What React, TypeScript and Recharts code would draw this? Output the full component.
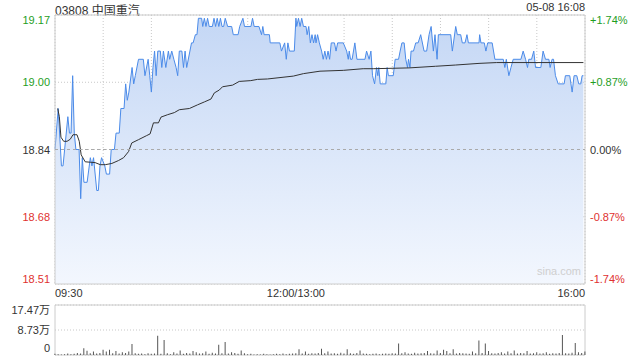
import React from 'react';
import {
  ComposedChart, Area, Line, XAxis, YAxis, CartesianGrid, ReferenceLine, ReferenceArea,
  BarChart, Bar,
} from 'recharts';

const stockTitle = '03808 中国重汽';
const stampText = '05-08 16:08';
const watermark = 'sina.com';

const priceTicks = [18.512, 18.676, 18.84, 19.004, 19.168];
const priceLabels = ['18.51', '18.68', '18.84', '19.00', '19.17'];
const pctLabels = ['-1.74%', '-0.87%', '0.00%', '+0.87%', '+1.74%'];
const tickColors = ['#e0312f', '#e0312f', '#333333', '#1f9e1f', '#1f9e1f'];

const minuteTicks = [0, 30, 60, 90, 120, 150, 180, 210, 240, 270, 300, 330];
const timeLabelAt = [0, 150, 330];
const timeLabels = ['09:30', '12:00/13:00', '16:00'];

const volTicks = [0, 8.73, 17.47];
const volLabels = ['0', '8.73万', '17.47万'];

// [minutes since 09:30 (lunch removed), price]
const price: [number, number][] = [
  [0, 18.84], [2, 18.94], [4, 18.8], [5, 18.8], [6, 18.84], [8, 18.92], [9, 18.88], [10, 18.88],
  [11, 19.02], [12, 18.88], [13, 18.84], [15, 18.84], [16, 18.72], [17, 18.82], [18, 18.76],
  [20, 18.76], [22, 18.82], [23, 18.8], [24, 18.82], [26, 18.74], [27, 18.74], [28, 18.8],
  [29, 18.82], [31, 18.8], [32, 18.78], [34, 18.78], [35, 18.84], [37, 18.84], [38, 18.88],
  [40, 18.88], [41, 18.94], [43, 18.94], [44, 19.0], [45, 18.96], [46, 18.98], [48, 19.04],
  [49, 19.0], [50, 19.02], [52, 19.06], [55, 19.06], [56, 19.02], [58, 19.06], [59, 19.02],
  [60, 18.98], [61, 19.04], [62, 19.08], [63, 19.02], [64, 19.08], [65.6, 19.08], [66.5, 19.04],
  [67.5, 19.08], [69, 19.04], [70.6, 19.08], [71.4, 19.06], [72.7, 19.08], [74, 19.06],
  [75.4, 19.04], [76.4, 19.02], [77.4, 19.08], [79, 19.08], [80, 19.04], [81, 19.08], [82, 19.04],
  [84, 19.08], [85, 19.1], [86, 19.1], [87.4, 19.12], [88.4, 19.12], [89.3, 19.16], [91.3, 19.16],
  [92, 19.14], [93, 19.16], [94, 19.14], [95, 19.16], [96, 19.14], [98, 19.14], [99, 19.16],
  [100, 19.14], [101, 19.16], [102, 19.14], [103, 19.16], [104, 19.14], [105, 19.14], [106, 19.16],
  [107.5, 19.14], [110, 19.14], [111, 19.12], [114, 19.12], [115, 19.14], [117, 19.16], [118, 19.14],
  [122, 19.14], [123, 19.16], [124, 19.14], [127, 19.14], [128.6, 19.12], [129.4, 19.14],
  [130.2, 19.12], [133.5, 19.12], [134, 19.1], [140, 19.1], [141, 19.08], [143, 19.1], [144, 19.06],
  [145, 19.1], [146, 19.08], [149, 19.08], [150, 19.16], [150.5, 19.14], [151.6, 19.16],
  [152.6, 19.14], [153.6, 19.16], [154.7, 19.14], [156.3, 19.14], [157, 19.12], [158, 19.14],
  [159, 19.1], [160, 19.12], [161, 19.1], [162, 19.12], [162.5, 19.1], [163.5, 19.12], [164.6, 19.1],
  [166, 19.08], [167, 19.06], [168, 19.08], [169, 19.06], [170, 19.08], [171, 19.06], [172, 19.1],
  [174, 19.1], [175, 19.08], [176, 19.1], [179.5, 19.1], [181.6, 19.08], [182.6, 19.06],
  [183.2, 19.08], [184, 19.06], [185, 19.06], [186.7, 19.1], [188, 19.06], [193, 19.06], [194, 19.08],
  [195.6, 19.06], [196.7, 19.08], [197.7, 19.02], [199, 19.0], [200.2, 19.04], [201, 19.02],
  [201.6, 19.04], [202.5, 19.0], [206, 19.0], [206.8, 19.04], [207.6, 19.02], [210.6, 19.02],
  [211.8, 19.06], [213.9, 19.06], [214.9, 19.08], [216, 19.1], [217.4, 19.1], [218.4, 19.06],
  [219.5, 19.04], [220.1, 19.06], [221, 19.04], [221.7, 19.08], [223.2, 19.08], [224.6, 19.1],
  [226.1, 19.1], [227.7, 19.12], [229.8, 19.08], [231.4, 19.08], [232.9, 19.12], [234.2, 19.14],
  [235.6, 19.08], [236.6, 19.12], [237.9, 19.06], [238.7, 19.12], [246.4, 19.12], [247.4, 19.08],
  [249.5, 19.14], [250.5, 19.12], [252.6, 19.12], [253.6, 19.1], [255.3, 19.1], [256.5, 19.12],
  [257.4, 19.1], [264, 19.1], [264.4, 19.12], [265.2, 19.1], [267.3, 19.1], [268.3, 19.08],
  [269.4, 19.1], [272.2, 19.1], [273.9, 19.06], [279.1, 19.06], [280.1, 19.04], [281, 19.06],
  [282.6, 19.02], [283.9, 19.04], [285.3, 19.06], [290.1, 19.06], [291.5, 19.08], [293, 19.06],
  [294.2, 19.04], [295, 19.06], [296.7, 19.06], [298.1, 19.08], [299.2, 19.04], [302.5, 19.04],
  [303.9, 19.08], [305.4, 19.06], [307.5, 19.06], [308.3, 19.04], [309.5, 19.06], [310.4, 19.06],
  [311.6, 19.02], [313.3, 19.0], [317, 19.0], [317.8, 19.02], [320.5, 19.02], [322, 18.98],
  [323.2, 19.02], [324.9, 19.02], [326.1, 19.0], [327.4, 19.0], [328.2, 19.02], [329, 19.02],
];

// average price line
const avg: [number, number][] = [
  [1.7, 18.94], [2.7, 18.92], [3.7, 18.87], [5.4, 18.86], [7.5, 18.86], [9.5, 18.865],
  [11.2, 18.876], [13.7, 18.876], [15.1, 18.86], [16.3, 18.827], [18.8, 18.81], [21.9, 18.809],
  [25, 18.808], [28.2, 18.803], [31.3, 18.803], [35.4, 18.806], [39.5, 18.813], [42.7, 18.82],
  [45.8, 18.835], [47.8, 18.856], [52, 18.864], [57.1, 18.874], [59.2, 18.878], [61.3, 18.905],
  [64.4, 18.905], [66, 18.919], [70.2, 18.925], [74.3, 18.93], [77.4, 18.937], [83.7, 18.94],
  [88.8, 18.949], [93, 18.956], [97.1, 18.963], [99.2, 18.978], [102.3, 18.985], [104.3, 18.993],
  [110.6, 18.997], [114.7, 19.006], [121.9, 19.008], [126.1, 19.011], [132.3, 19.012],
  [148.4, 19.019], [154.7, 19.025], [165, 19.031], [179.5, 19.033], [191.9, 19.037],
  [198.1, 19.037], [220.5, 19.039], [237, 19.043], [249.5, 19.046], [264, 19.05], [275, 19.052],
  [329, 19.052],
];

// volume in 万 shares, one bar per 2 minutes
const volume = [
  0.4, 0.3, 0.2, 0.3, 0.5, 0.3, 0.4, 0.7, 0.5, 2.4, 1.5, 0.6, 1.2, 0.5, 0.7,
  1.8, 1.2, 1.8, 0.6, 1.4, 0.5, 1.0, 0.7, 1.2, 3.8, 0.6, 0.4, 0.5, 0.3, 0.6,
  0.4, 0.5, 6.7, 0.4, 5.2, 0.6, 0.3, 1.0, 0.5, 1.6, 0.4, 0.7, 0.5, 1.4, 1.0,
  0.5, 0.6, 1.2, 0.4, 0.8, 0.5, 3.6, 0.6, 4.5, 0.5, 1.0, 0.7, 0.4, 1.6, 0.6,
  0.3, 0.4, 0.2, 0.3, 0.2, 0.4, 0.3, 0.2, 0.3, 0.4, 0.3, 0.5, 0.3, 0.4, 0.5,
  0.6, 2.0, 0.5, 1.2, 0.4, 0.6, 0.5, 0.7, 2.2, 0.6, 1.2, 0.5, 0.6, 0.4, 0.8,
  0.5, 2.0, 0.6, 0.4, 0.7, 1.6, 0.5, 0.4, 0.3, 0.4, 0.5, 0.3, 0.4, 0.5, 0.4,
  0.6, 0.5, 4.0, 0.6, 1.0, 0.5, 0.4, 0.8, 0.5, 0.6, 0.7, 1.4, 0.6, 0.5, 1.6,
  0.7, 1.8, 1.4, 0.6, 2.0, 0.5, 0.7, 0.6, 0.5, 0.4, 1.2, 0.6, 5.1, 0.7, 4.0,
  1.4, 0.6, 0.5, 0.7, 1.0, 0.5, 1.2, 0.6, 1.6, 0.5, 0.7, 0.6, 1.4, 0.5, 0.6,
  1.0, 0.5, 0.6, 1.0, 0.4, 0.6, 0.5, 0.7, 7.0, 0.6, 0.5, 0.8, 4.2, 1.0, 0.7,
  1.2,
];

const priceRows = price.map(([t, p]) => ({ t, p }));
const avgRows = avg.map(([t, a]) => ({ t, a }));
const volRows = volume.map((v, i) => ({ t: i * 2, v }));

const font = '"Liberation Sans", Arial, "Noto Sans CJK SC", sans-serif';

const LeftTick = (props: any) => {
  const { x, y, payload } = props;
  const i = priceTicks.indexOf(payload.value);
  const dy = i === 0 ? -1 : i === 4 ? 9 : 4;
  return (
    <text x={x} y={y} dy={dy} textAnchor="end" fill={tickColors[i]} fontSize={11} fontFamily={font}>
      {priceLabels[i]}
    </text>
  );
};

const RightTick = (props: any) => {
  const { x, y, payload } = props;
  const i = priceTicks.indexOf(payload.value);
  const dy = i === 0 ? -1 : i === 4 ? 9 : 4;
  return (
    <text x={x} y={y} dy={dy} textAnchor="start" fill={tickColors[i]} fontSize={11} fontFamily={font}>
      {pctLabels[i]}
    </text>
  );
};

const TimeTick = (props: any) => {
  const { x, y, payload } = props;
  const i = timeLabelAt.indexOf(payload.value);
  if (i < 0) return <g />;
  const anchor = i === 0 ? 'start' : i === 2 ? 'end' : 'middle';
  return (
    <text x={x} y={y} dy={13} textAnchor={anchor} fill="#333" fontSize={11} fontFamily={font}>
      {timeLabels[i]}
    </text>
  );
};

const VolTick = (props: any) => {
  const { x, y, payload } = props;
  const i = volTicks.indexOf(payload.value);
  const dy = i === 0 ? -3 : i === 2 ? 9 : 4;
  return (
    <text x={x} y={y} dy={dy} textAnchor="end" fill="#333" fontSize={11} fontFamily={font}>
      {volLabels[i]}
    </text>
  );
};

export default function App() {
  return (
    <div style={{ position: 'absolute', left: 0, top: 0, width: 640, height: 360, background: '#fff', fontFamily: font }}>
      <div style={{ position: 'absolute', left: 55, top: 1, fontSize: 12, color: '#333' }}>{stockTitle}</div>
      <div style={{ position: 'absolute', right: 55, top: 1, fontSize: 11, color: '#333' }}>{stampText}</div>

      <div style={{ position: 'absolute', left: 0, top: 0 }}>
        <ComposedChart width={640} height={300} data={priceRows} margin={{ top: 15, right: 0, bottom: 0, left: 0 }}>
          <defs>
            <linearGradient id="priceFill" x1="0" y1="0" x2="0" y2="1">
              <stop offset="0%" stopColor="#c4d7f5" />
              <stop offset="100%" stopColor="#f3f7fe" />
            </linearGradient>
          </defs>
          <CartesianGrid yAxisId="l" stroke="#c8c8c8" strokeDasharray="1 2" />
          <XAxis
            dataKey="t"
            type="number"
            domain={[0, 330]}
            ticks={minuteTicks}
            interval={0}
            height={16}
            axisLine={false}
            tickLine={false}
            tickSize={0}
            tickMargin={0}
            tick={<TimeTick />}
          />
          <YAxis
            yAxisId="l"
            type="number"
            domain={[priceTicks[0], priceTicks[4]]}
            ticks={priceTicks}
            interval={0}
            allowDataOverflow
            width={55}
            axisLine={false}
            tickLine={false}
            tickSize={0}
            tickMargin={5}
            tick={<LeftTick />}
          />
          <YAxis
            yAxisId="r"
            orientation="right"
            type="number"
            domain={[priceTicks[0], priceTicks[4]]}
            ticks={priceTicks}
            interval={0}
            allowDataOverflow
            width={55}
            axisLine={false}
            tickLine={false}
            tickSize={0}
            tickMargin={5}
            tick={<RightTick />}
          />
          <Area
            yAxisId="l"
            type="linear"
            dataKey="p"
            stroke="#4b8be9"
            strokeWidth={1}
            fill="url(#priceFill)"
            fillOpacity={1}
            baseValue={priceTicks[0]}
            dot={false}
            activeDot={false}
            isAnimationActive={false}
          />
          <Line
            yAxisId="l"
            data={avgRows}
            type="linear"
            dataKey="a"
            stroke="#333"
            strokeWidth={1}
            dot={false}
            activeDot={false}
            isAnimationActive={false}
          />
          <ReferenceLine yAxisId="l" y={priceTicks[2]} stroke="#aaaaaa" strokeDasharray="3 3" />
          <ReferenceArea
            yAxisId="l"
            x1={0}
            x2={330}
            y1={priceTicks[0]}
            y2={priceTicks[4]}
            fill="none"
            stroke="#cccccc"
          />
        </ComposedChart>
      </div>

      <div style={{ position: 'absolute', left: 537, top: 265, fontSize: 11, color: '#cfcfcf' }}>{watermark}</div>

      <div style={{ position: 'absolute', left: 0, top: 290 }}>
        <BarChart width={640} height={70} data={volRows} margin={{ top: 15, right: 55, bottom: 5, left: 0 }}>
          <CartesianGrid vertical={false} stroke="#c8c8c8" strokeDasharray="1 2" />
          <XAxis dataKey="t" type="number" domain={[0, 330]} hide />
          <YAxis
            type="number"
            domain={[0, volTicks[2]]}
            ticks={volTicks}
            interval={0}
            width={55}
            axisLine={false}
            tickLine={false}
            tickSize={0}
            tickMargin={5}
            tick={<VolTick />}
          />
          <Bar dataKey="v" fill="#555" barSize={1} isAnimationActive={false} />
          <ReferenceArea x1={0} x2={330} y1={0} y2={volTicks[2]} fill="none" stroke="#cccccc" />
        </BarChart>
      </div>
    </div>
  );
}
